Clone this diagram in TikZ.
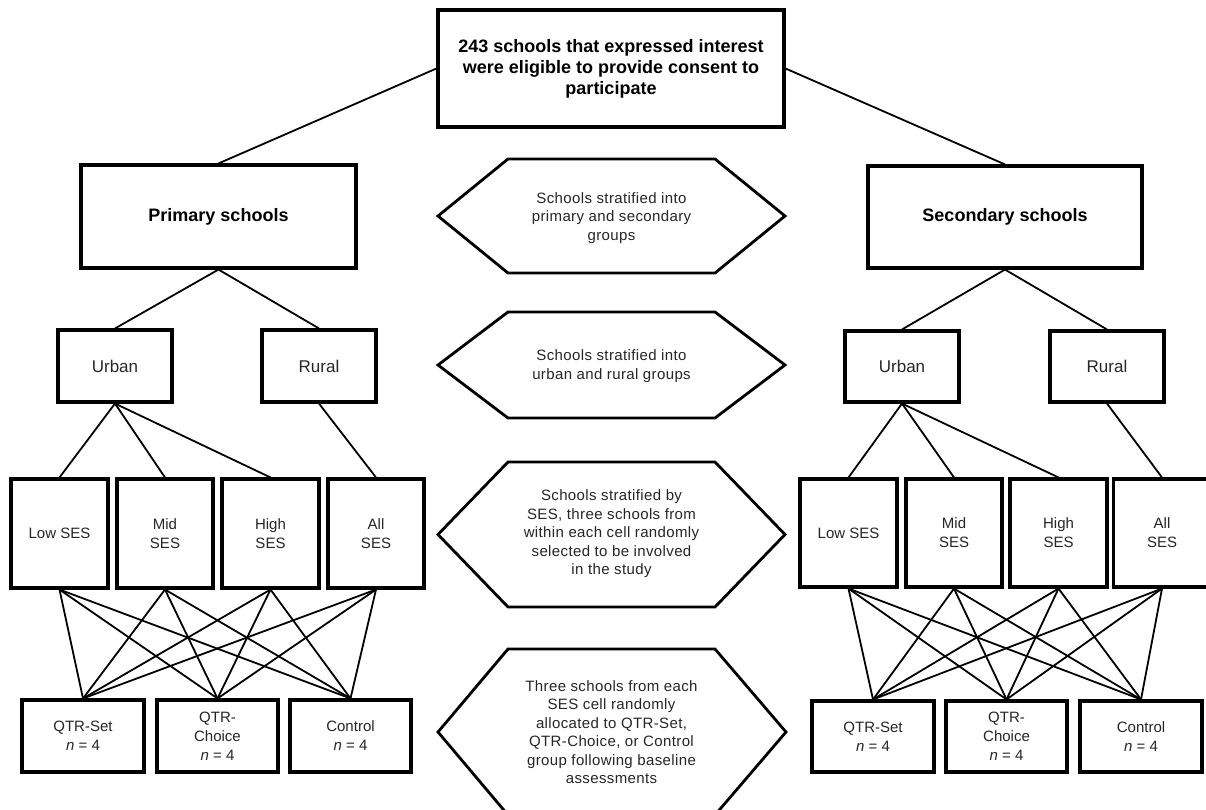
\documentclass[tikz,border=0pt]{standalone}
\usepackage{fontspec}
\setmainfont{Liberation Sans}
\definecolor{txt}{HTML}{262626}
\begin{document}
\begin{tikzpicture}[x=1pt,y=-1pt,
  box/.style={draw, line width=3.1pt, inner sep=0pt, align=center, text=txt,
    font=\fontsize{15}{19}\selectfont},
  bigbox/.style={box, text=black, font=\fontsize{18}{21}\selectfont\bfseries},
  urbox/.style={box, font=\fontsize{17}{20}\selectfont},
  link/.style={line width=1.8pt},
  hexa/.style={line width=2.8pt, line join=miter},
  hextext/.style={align=center, text=txt, inner sep=0pt,
    font=\fontsize{15}{18.5}\selectfont\addfontfeature{LetterSpace=2.5}}]
\useasboundingbox (0,0) rectangle (1206,809);
\fill[white] (0,0) rectangle (1206,809);

% top
\node[bigbox, minimum width=346, minimum height=117] (top) at (611,68.5)
  {243 schools that expressed interest\\were eligible to provide consent to\\participate};
\node[bigbox, minimum width=275, minimum height=103] (prim) at (218.5,216.5) {Primary schools};
\node[bigbox, minimum width=274, minimum height=102] (sec) at (1005,217) {Secondary schools};

% urban/rural
\node[urbox, minimum width=114, minimum height=72] (urbL) at (115,366) {Urban};
\node[urbox, minimum width=114, minimum height=72] (rurL) at (319,366) {Rural};
\node[urbox, minimum width=114, minimum height=71] (urbR) at (902,366.5) {Urban};
\node[urbox, minimum width=114, minimum height=71] (rurR) at (1107,366.5) {Rural};

% SES left
\node[box, minimum width=97, minimum height=109] (lowL) at (59.5,533.5) {Low SES};
\node[box, minimum width=96, minimum height=109] (midL) at (165,533.5) {Mid\\SES};
\node[box, minimum width=97, minimum height=109] (highL) at (270.5,533.5) {High\\SES};
\node[box, minimum width=96, minimum height=109] (allL) at (376,533.5) {All\\SES};
% SES right
\node[box, minimum width=97, minimum height=108] (lowR) at (848.5,533) {Low SES};
\node[box, minimum width=96, minimum height=108] (midR) at (954,533) {Mid\\SES};
\node[box, minimum width=97, minimum height=108] (highR) at (1058.5,533) {High\\SES};
\node[box, minimum width=97, minimum height=108] (allR) at (1162,533) {All\\SES};

% QTR left
\node[box, minimum width=122, minimum height=72] (setL) at (83,736) {QTR-Set\\\textit{n} = 4};
\node[box, minimum width=121, minimum height=72] (choL) at (217.5,736) {QTR-\\Choice\\\textit{n} = 4};
\node[box, minimum width=121, minimum height=72] (conL) at (350.5,736) {Control\\\textit{n} = 4};
% QTR right
\node[box, minimum width=122, minimum height=71] (setR) at (873,736.5) {QTR-Set\\\textit{n} = 4};
\node[box, minimum width=121, minimum height=71] (choR) at (1006.5,736.5) {QTR-\\Choice\\\textit{n} = 4};
\node[box, minimum width=122, minimum height=71] (conR) at (1141,736.5) {Control\\\textit{n} = 4};

% connectors
\draw[link] (top.west) -- (prim.north);
\draw[link] (top.east) -- (sec.north);
\draw[link] (prim.south) -- (urbL.north);
\draw[link] (prim.south) -- (rurL.north);
\draw[link] (sec.south) -- (urbR.north);
\draw[link] (sec.south) -- (rurR.north);
\foreach \s in {L,R}{
  \draw[link] (urb\s.south) -- (low\s.north);
  \draw[link] (urb\s.south) -- (mid\s.north);
  \draw[link] (urb\s.south) -- (high\s.north);
  \draw[link] (rur\s.south) -- (all\s.north);
  \foreach \a in {low,mid,high,all}{
    \foreach \b in {set,cho,con}{
      \draw[link] (\a\s.south) -- (\b\s.north);
    }
  }
}

% hexagons
\draw[hexa] (438,216) -- (508,159) -- (715,159) -- (785,216) -- (715,273) -- (508,273) -- cycle;
\node[hextext] (h1) at (611.5,218) {Schools stratified into\\primary and secondary\\groups};
\draw[hexa] (438,365) -- (508,312) -- (715,312) -- (785,365) -- (715,418) -- (508,418) -- cycle;
\node[hextext] (h2) at (611.5,366) {Schools stratified into\\urban and rural groups};
\draw[hexa] (438,534.5) -- (508,462) -- (715,462) -- (785,534.5) -- (715,607) -- (508,607) -- cycle;
\node[hextext] (h3) at (611.5,534) {Schools stratified by\\SES, three schools from\\within each cell randomly\\selected to be involved\\in the study};
\draw[hexa] (438,732) -- (508,649) -- (715,649) -- (786,732) -- (715,815) -- (508,815) -- cycle;
\node[hextext] (h4) at (611.5,732) {Three schools from each\\SES cell randomly\\allocated to QTR-Set,\\QTR-Choice, or Control\\group following baseline\\assessments};
\end{tikzpicture}
\end{document}
